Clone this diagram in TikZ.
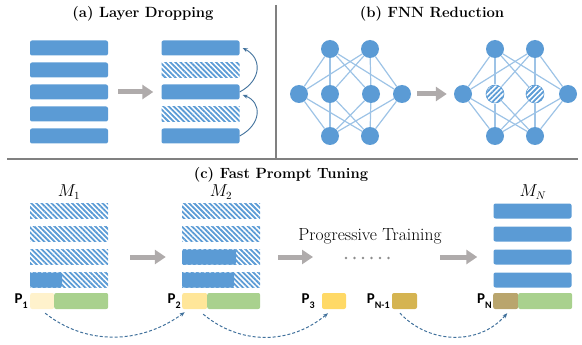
\documentclass[tikz,border=0pt]{standalone}
\usepackage{fontspec}
\newfontfamily\labelfont{Carlito}
\usetikzlibrary{patterns.meta,arrows.meta,positioning}
\definecolor{layerblue}{HTML}{5B9BD5}
\definecolor{linkblue}{HTML}{9DC3E6}
\definecolor{darkblue}{HTML}{41719C}
\definecolor{arrowgray}{HTML}{AFABAB}
\definecolor{dotgray}{HTML}{8C8C8C}
\definecolor{sepgray}{HTML}{808080}
\definecolor{promptA}{HTML}{FFF2CC}
\definecolor{promptB}{HTML}{FFE699}
\definecolor{promptC}{HTML}{FFD966}
\definecolor{promptD}{HTML}{D5B451}
\definecolor{promptE}{HTML}{B9A56D}
\definecolor{promptgreen}{HTML}{A9D18E}
\newcommand{\plabel}[1]{{\labelfont\bfseries\fontsize{15}{16}\selectfont P\raisebox{-0.3em}{\fontsize{10}{10}\selectfont #1}}}

\begin{document}
\begin{tikzpicture}[x=1pt,y=-1pt,
  layer/.style={fill=layerblue,rounded corners=2pt,minimum width=78pt,minimum height=15pt,inner sep=0pt},
  hatchlayer/.style={pattern={Lines[angle=-45,distance=3.6pt,line width=1.8pt]},pattern color=layerblue,minimum width=78pt,minimum height=15pt,inner sep=0pt},
  neuron/.style={circle,fill=layerblue,minimum size=18pt,inner sep=0pt},
  hatchneuron/.style={circle,draw=layerblue,line width=0.6pt,pattern={Lines[angle=45,distance=3.6pt,line width=1.8pt]},pattern color=layerblue,minimum size=18pt,inner sep=0pt},
  link/.style={draw=linkblue,line width=1.2pt},
  prompt/.style={rounded corners=2pt,minimum height=16pt,inner sep=0pt},
  plab/.style={inner sep=1pt},
  mlab/.style={font=\fontsize{16}{18}\selectfont},
  grayarrow/.style={draw=arrowgray,line width=5pt,-{Triangle[length=11pt,width=14pt]}},
  skiparrow/.style={draw=darkblue,line width=0.9pt,-{Stealth[length=5pt,width=4pt]}},
  dasharrow/.style={draw=darkblue,line width=1pt,dash pattern=on 3pt off 2pt,-{Stealth[length=5pt,width=4pt]}},
  title/.style={font=\bfseries\fontsize{14.8}{17}\selectfont},
  sep/.style={draw=sepgray,line width=1.5pt}]
\useasboundingbox (0,0) rectangle (582,345);
% separators
\draw[sep] (276,5) -- (276,158);
\draw[sep] (7,159) -- (578,159);
% (a) layer dropping
\node[title] (ta) at (143,14) {(a) Layer Dropping};
\foreach \i in {1,...,5} \node[layer] (al\i) at (69,26+22*\i) {};
\foreach \i/\s in {1/layer,2/hatchlayer,3/layer,4/hatchlayer,5/layer} \node[\s] (ar\i) at (200.5,26+22*\i) {};
\draw[grayarrow] ([xshift=10pt]al3.east) -- ([xshift=-8pt]ar3.west);
\draw[skiparrow] (ar3.east) .. controls (262,80) and (262,58) .. ([xshift=3pt]ar1.east);
\draw[skiparrow] (ar5.east) .. controls (262,124) and (262,102) .. ([xshift=3pt,yshift=-3pt]ar3.east);
% (b) FNN reduction
\node[title] (tb) at (432,14) {(b) FNN Reduction};
\node[neuron] (lt1) at (330,49) {};
\node[neuron] (lt2) at (370,49) {};
\foreach \i/\x in {1/299,2/330,3/371,4/402} \node[neuron] (lm\i) at (\x,94) {};
\node[neuron] (lb1) at (330,136) {};
\node[neuron] (lb2) at (370,136) {};
\node[neuron] (rt1) at (495,49) {};
\node[neuron] (rt2) at (535,49) {};
\node[neuron] (rm1) at (463,94) {};
\node[hatchneuron] (rm2) at (495,94) {};
\node[hatchneuron] (rm3) at (535,94) {};
\node[neuron] (rm4) at (568,94) {};
\node[neuron] (rb1) at (495,136) {};
\node[neuron] (rb2) at (535,136) {};
\foreach \i in {1,2} \foreach \j in {1,...,4} {
  \draw[link] (lt\i) -- (lm\j); \draw[link] (lb\i) -- (lm\j);
  \draw[link] (rt\i) -- (rm\j); \draw[link] (rb\i) -- (rm\j);
}
\draw[grayarrow] ([xshift=6pt]lm4.east) -- ([xshift=-7pt]rm1.west);
% (c) fast prompt tuning
\node[title] (tc) at (281,175) {(c) Fast Prompt Tuning};
\foreach \i/\y in {1/211,2/234,3/257,4/280} {
  \node[hatchlayer] (ca\i) at (69,\y) {};
  \node[hatchlayer] (cb\i) at (221,\y) {};
  \node[layer] (cn\i) at (532.5,\y) {};
}
\node[layer,minimum width=32pt,anchor=west] (cas4) at (ca4.west) {};
\node[layer,minimum width=54pt,anchor=west] (cbs3) at (cb3.west) {};
\node[layer,minimum width=52pt,anchor=west] (cbs4) at (cb4.west) {};
\node[mlab] (ma) at (69,192) {$M_1$};
\node[mlab] (mb) at (221,192) {$M_2$};
\node[mlab] (mn) at (533,192) {$M_N$};
% prompts
\node[prompt,fill=promptA,minimum width=24pt,anchor=west] (p1) at (30,301) {};
\node[prompt,fill=promptgreen,minimum width=54pt,anchor=west] (g1) at (54,301) {};
\node[prompt,fill=promptB,minimum width=25pt,anchor=west] (p2) at (182,301) {};
\node[prompt,fill=promptgreen,minimum width=53pt,anchor=west] (g2) at (207,301) {};
\node[prompt,fill=promptC,minimum width=24pt] (p3) at (334,301) {};
\node[prompt,fill=promptD,minimum width=25pt] (pn1) at (404.5,301) {};
\node[prompt,fill=promptE,minimum width=25pt,anchor=west] (pn) at (493,301) {};
\node[prompt,fill=promptgreen,minimum width=54pt,anchor=west] (gn) at (518,301) {};
\node[plab,left=1pt of p1] (lp1) {\plabel{1}};
\node[plab,left=0pt of p2] (lp2) {\plabel{2}};
\node[plab,left=6pt of p3] (lp3) {\plabel{3}};
\node[plab,left=1pt of pn1] (lpn1) {\plabel{N-1}};
\node[plab,left=0pt of pn] (lpn) {\plabel{N}};
% progressive training
\node[font=\fontsize{17.5}{19}\selectfont] (prog) at (370,236) {Progressive Training};
\coordinate (gapL) at (313,257);
\coordinate (gapR) at (440,257);
\draw[grayarrow] ([xshift=22pt]ca3.east) -- ([xshift=-16pt]cb3.west);
\draw[grayarrow] ([xshift=18pt]cb3.east) -- (gapL);
\draw[grayarrow] (gapR) -- ([xshift=-16pt]cn3.west);
\foreach \k in {0,...,5} \fill[dotgray] (346+8.5*\k,258) circle (1.3pt);
\draw[dasharrow] ([xshift=3pt,yshift=-4pt]p1.south) .. controls (85,345) and (140,345) .. ([xshift=-10pt,yshift=-3pt]p2.south);
\draw[dasharrow] ([xshift=8.5pt,yshift=-5pt]p2.south) .. controls (240,345) and (290,345) .. ([xshift=-6pt,yshift=-4pt]p3.south);
\draw[dasharrow] ([xshift=-4.5pt,yshift=-4pt]pn1.south) .. controls (430,345) and (480,345) .. ([xshift=1.5pt,yshift=-4pt]pn.south);
\end{tikzpicture}
\end{document}
